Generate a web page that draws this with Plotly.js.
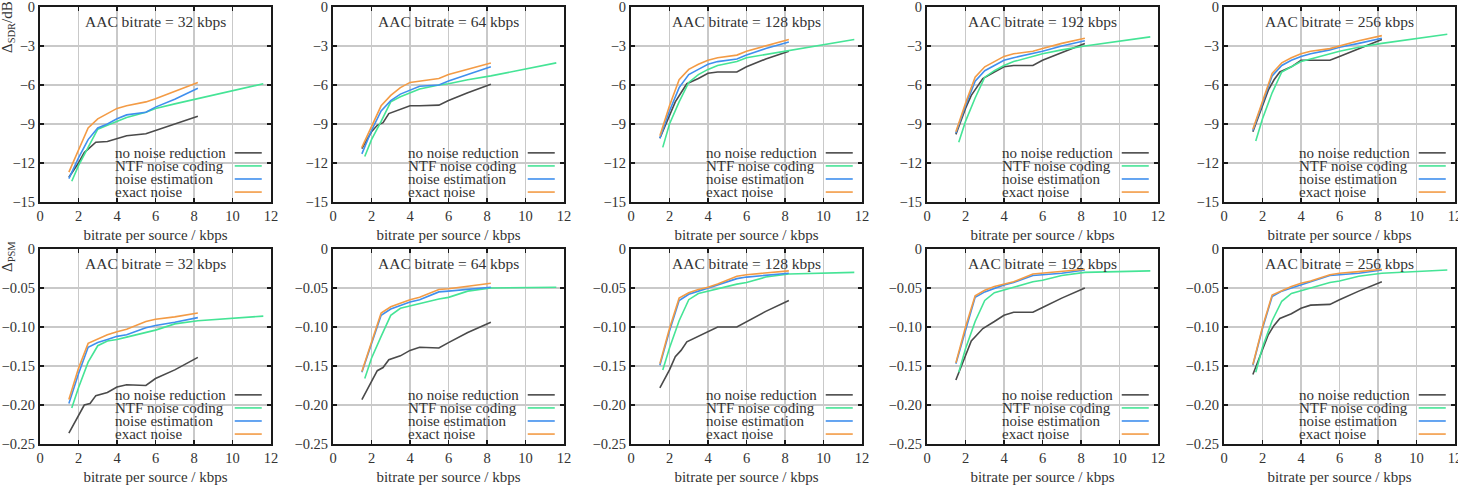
<!DOCTYPE html>
<html>
<head>
<meta charset="utf-8">
<script src="https://cdn.plot.ly/plotly-3.0.1.min.js"></script>
<style>
  html, body { margin: 0; padding: 0; background: #fff; }
  #chart { width: 1458px; height: 486px; }
</style>
</head>
<body>
<div id="chart"></div>
<script>
// AAC core bitrates, one column of panels each
const aacBitrates = [32, 64, 128, 192, 256];

// bitrate per source (kbps) sampled by each method
const xNone  = [1.5, 2.0, 2.3, 2.6, 2.9, 3.5, 4.0, 4.5, 5.5, 6.0, 7.0, 8.2];
const xNtf   = [1.65, 2.0, 2.5, 3.0, 3.5, 4.0, 4.5, 5.5, 6.0, 7.0, 8.2, 11.6];
const xEst   = [1.5, 2.0, 2.5, 3.0, 3.5, 4.0, 4.5, 5.5, 6.0, 7.0, 8.2];
const xExact = [1.5, 2.0, 2.5, 3.0, 3.5, 4.0, 4.5, 5.5, 6.0, 7.0, 8.2];

// SDR difference in dB, one row per AAC bitrate
const sdrNone = [
  [-13.1, -12.0, -11.2, -10.8, -10.4, -10.35, -10.1, -9.9, -9.75, -9.5, -9.0, -8.4],
  [-10.9, -9.6, -9.1, -8.9, -8.2, -7.9, -7.6, -7.6, -7.55, -7.2, -6.6, -5.95],
  [-10.1, -8.4, -7.3, -6.6, -5.9, -5.5, -5.1, -5.0, -5.0, -4.6, -4.0, -3.4],
  [-9.8, -7.8, -6.8, -6.1, -5.5, -5.0, -4.6, -4.5, -4.5, -4.1, -3.5, -2.8],
  [-9.6, -7.6, -6.4, -5.6, -5.0, -4.6, -4.1, -4.1, -4.1, -3.8, -3.2, -2.5]
];
const sdrNtf = [
  [-13.4, -12.2, -10.8, -9.4, -9.1, -8.8, -8.5, -8.1, -7.8, -7.45, -7.05, -5.9],
  [-11.5, -10.2, -8.8, -7.3, -6.9, -6.6, -6.3, -6.0, -5.9, -5.6, -5.3, -4.3],
  [-10.8, -9.0, -7.3, -5.8, -5.2, -4.8, -4.5, -4.2, -3.9, -3.65, -3.4, -2.5],
  [-10.4, -8.8, -7.0, -5.4, -4.9, -4.5, -4.2, -3.8, -3.6, -3.3, -3.0, -2.3],
  [-10.3, -8.6, -6.6, -5.0, -4.6, -4.2, -4.0, -3.6, -3.4, -3.1, -2.8, -2.1]
];
const sdrEst = [
  [-13.2, -11.6, -10.2, -9.3, -9.0, -8.6, -8.3, -8.1, -7.7, -7.1, -6.25],
  [-11.3, -9.5, -8.0, -7.2, -6.7, -6.4, -6.1, -6.0, -5.7, -5.2, -4.6],
  [-10.1, -8.0, -6.2, -5.2, -4.8, -4.4, -4.2, -4.0, -3.7, -3.2, -2.7],
  [-9.7, -7.6, -5.7, -4.9, -4.5, -4.1, -3.9, -3.6, -3.4, -3.0, -2.6],
  [-9.5, -7.4, -5.3, -4.5, -4.1, -3.8, -3.6, -3.3, -3.1, -2.8, -2.4]
];
const sdrExact = [
  [-12.7, -11.0, -9.3, -8.6, -8.2, -7.8, -7.6, -7.3, -7.05, -6.5, -5.8],
  [-10.8, -9.2, -7.6, -6.8, -6.2, -5.8, -5.7, -5.5, -5.2, -4.8, -4.3],
  [-9.9, -7.6, -5.6, -4.8, -4.4, -4.1, -3.9, -3.7, -3.4, -3.0, -2.5],
  [-9.6, -7.4, -5.4, -4.6, -4.2, -3.8, -3.6, -3.4, -3.2, -2.8, -2.4],
  [-9.4, -7.2, -5.1, -4.3, -3.9, -3.6, -3.4, -3.2, -3.0, -2.6, -2.2]
];

// PSM difference, one row per AAC bitrate
const psmNone = [
  [-0.236, -0.213, -0.200, -0.198, -0.188, -0.184, -0.177, -0.174, -0.175, -0.166, -0.155, -0.139],
  [-0.193, -0.170, -0.156, -0.152, -0.142, -0.137, -0.130, -0.126, -0.127, -0.120, -0.107, -0.094],
  [-0.178, -0.155, -0.138, -0.130, -0.119, -0.112, -0.106, -0.100, -0.100, -0.093, -0.080, -0.066],
  [-0.168, -0.138, -0.118, -0.110, -0.102, -0.093, -0.085, -0.081, -0.081, -0.075, -0.063, -0.050],
  [-0.161, -0.130, -0.110, -0.098, -0.089, -0.083, -0.076, -0.072, -0.071, -0.065, -0.054, -0.042]
];
const psmNtf = [
  [-0.204, -0.178, -0.145, -0.124, -0.118, -0.116, -0.113, -0.107, -0.104, -0.096, -0.092, -0.086],
  [-0.166, -0.140, -0.112, -0.085, -0.076, -0.073, -0.070, -0.064, -0.062, -0.054, -0.050, -0.049],
  [-0.155, -0.127, -0.092, -0.065, -0.057, -0.054, -0.051, -0.045, -0.043, -0.036, -0.032, -0.030],
  [-0.158, -0.128, -0.093, -0.066, -0.056, -0.052, -0.049, -0.042, -0.040, -0.034, -0.030, -0.028],
  [-0.158, -0.126, -0.092, -0.067, -0.057, -0.053, -0.050, -0.043, -0.041, -0.035, -0.031, -0.027]
];
const psmEst = [
  [-0.198, -0.160, -0.126, -0.120, -0.116, -0.112, -0.110, -0.101, -0.098, -0.094, -0.088],
  [-0.158, -0.122, -0.085, -0.077, -0.072, -0.068, -0.065, -0.055, -0.054, -0.052, -0.049],
  [-0.149, -0.105, -0.066, -0.058, -0.054, -0.050, -0.047, -0.038, -0.036, -0.034, -0.031],
  [-0.147, -0.103, -0.062, -0.055, -0.050, -0.046, -0.043, -0.034, -0.033, -0.031, -0.027],
  [-0.149, -0.102, -0.061, -0.054, -0.050, -0.046, -0.043, -0.034, -0.033, -0.031, -0.027]
];
const psmExact = [
  [-0.193, -0.153, -0.121, -0.115, -0.110, -0.106, -0.103, -0.093, -0.090, -0.087, -0.082],
  [-0.157, -0.118, -0.082, -0.074, -0.069, -0.065, -0.062, -0.052, -0.051, -0.048, -0.044],
  [-0.147, -0.102, -0.063, -0.056, -0.052, -0.049, -0.045, -0.035, -0.033, -0.031, -0.028],
  [-0.146, -0.100, -0.060, -0.053, -0.048, -0.045, -0.042, -0.032, -0.031, -0.029, -0.026],
  [-0.148, -0.100, -0.059, -0.053, -0.048, -0.044, -0.041, -0.033, -0.031, -0.029, -0.026]
];

// axis ticks
const xTicks = [0, 2, 4, 6, 8, 10, 12];
const sdrTicks = [-15, -12, -9, -6, -3, 0];
const sdrTickText = ['\u221215', '\u221212', '\u22129', '\u22126', '\u22123', '0'];
const psmTicks = [-0.25, -0.20, -0.15, -0.10, -0.05, 0];
const psmTickText = ['\u22120.25', '\u22120.20', '\u22120.15', '\u22120.10', '\u22120.05', '0'];

const methodNames = ['no noise reduction', 'NTF noise coding', 'noise estimation', 'exact noise'];
const methodColors = ['#4a4a4a', '#45e496', '#3f8fee', '#f39b45'];

// ---- layout geometry (pixels) ----
const W = 1458, H = 486;
const colLeft = [40, 333, 631, 927, 1224];
const panelW = 231;
const rowTop = [7, 249];
const panelH = 195;
const FONT = 'Liberation Serif';
const TXT = '#333';

const traces = [];
const layout = {
  width: W, height: H,
  margin: {l: 0, r: 0, t: 0, b: 0},
  paper_bgcolor: '#fff',
  plot_bgcolor: '#fff',
  showlegend: false,
  font: {family: FONT, size: 14, color: TXT},
  annotations: [],
  shapes: []
};

const rows = [
  {none: sdrNone, ntf: sdrNtf, est: sdrEst, exact: sdrExact,
   range: [-15, 0], ticks: sdrTicks, tickText: sdrTickText,
   label: '\u0394<sub>SDR</sub>/dB', labelMid: 27},
  {none: psmNone, ntf: psmNtf, est: psmEst, exact: psmExact,
   range: [-0.25, 0], ticks: psmTicks, tickText: psmTickText,
   label: '\u0394<sub>PSM</sub>', labelMid: 257}
];

const legendY = [0.252, 0.185, 0.118, 0.051];

rows.forEach((row, r) => {
  aacBitrates.forEach((rate, c) => {
    const k = r * 5 + c + 1;
    const xa = k === 1 ? 'x' : 'x' + k;
    const ya = k === 1 ? 'y' : 'y' + k;
    const xKey = k === 1 ? 'xaxis' : 'xaxis' + k;
    const yKey = k === 1 ? 'yaxis' : 'yaxis' + k;

    const series = [
      [xNone, row.none[c]],
      [xNtf, row.ntf[c]],
      [xEst, row.est[c]],
      [xExact, row.exact[c]]
    ];
    series.forEach((s, m) => {
      traces.push({
        type: 'scatter', mode: 'lines',
        x: s[0], y: s[1],
        xaxis: xa, yaxis: ya,
        name: methodNames[m],
        line: {color: methodColors[m], width: 1.6},
        hoverinfo: 'skip'
      });
    });

    const axisCommon = {
      showline: true, linecolor: '#1a1a1a', linewidth: 2, mirror: 'ticks',
      showgrid: true, gridcolor: '#c9c9c9', gridwidth: 1.4,
      zeroline: false,
      ticks: 'inside', ticklen: 4, tickwidth: 1.2, tickcolor: '#1a1a1a',
      tickfont: {family: FONT, size: 14.5, color: TXT},
      ticklabeloverflow: 'allow',
      fixedrange: true
    };

    layout[xKey] = Object.assign({}, axisCommon, {
      domain: [colLeft[c] / W, (colLeft[c] + panelW) / W],
      anchor: ya,
      range: [0, 12],
      tickvals: xTicks,
      ticktext: xTicks.map(String),
      title: {text: 'bitrate per source / kbps', standoff: 6,
              font: {family: FONT, size: 15, color: TXT}}
    });
    layout[yKey] = Object.assign({}, axisCommon, {
      domain: [1 - (rowTop[r] + panelH) / H, 1 - rowTop[r] / H],
      anchor: xa,
      range: row.range,
      tickvals: row.ticks,
      ticktext: row.tickText
    });

    // panel heading
    layout.annotations.push({
      xref: xa + ' domain', yref: ya + ' domain',
      x: 0.5, y: 0.925, xanchor: 'center', yanchor: 'middle',
      text: 'AAC bitrate = ' + rate + ' kbps', showarrow: false,
      font: {family: FONT, size: 15.5, color: TXT}
    });

    // key: label on the left, line sample on the right
    methodNames.forEach((name, m) => {
      layout.annotations.push({
        xref: xa + ' domain', yref: ya + ' domain',
        x: 0.317, y: legendY[m], xanchor: 'left', yanchor: 'middle',
        text: name, showarrow: false,
        font: {family: FONT, size: 15, color: TXT}
      });
      layout.shapes.push({
        type: 'line', xref: xa + ' domain', yref: ya + ' domain',
        x0: 0.843, x1: 0.96, y0: legendY[m], y1: legendY[m],
        line: {color: methodColors[m], width: 1.6}
      });
    });
  });

  // rotated metric label in the top-left corner of each row
  layout.annotations.push({
    xref: 'paper', yref: 'paper',
    x: 8 / W, y: 1 - row.labelMid / H,
    xanchor: 'center', yanchor: 'middle',
    textangle: -90,
    text: row.label, showarrow: false,
    font: {family: FONT, size: 15, color: TXT}
  });
});

Plotly.newPlot('chart', traces, layout, {staticPlot: true, displayModeBar: false});
</script>
</body>
</html>
